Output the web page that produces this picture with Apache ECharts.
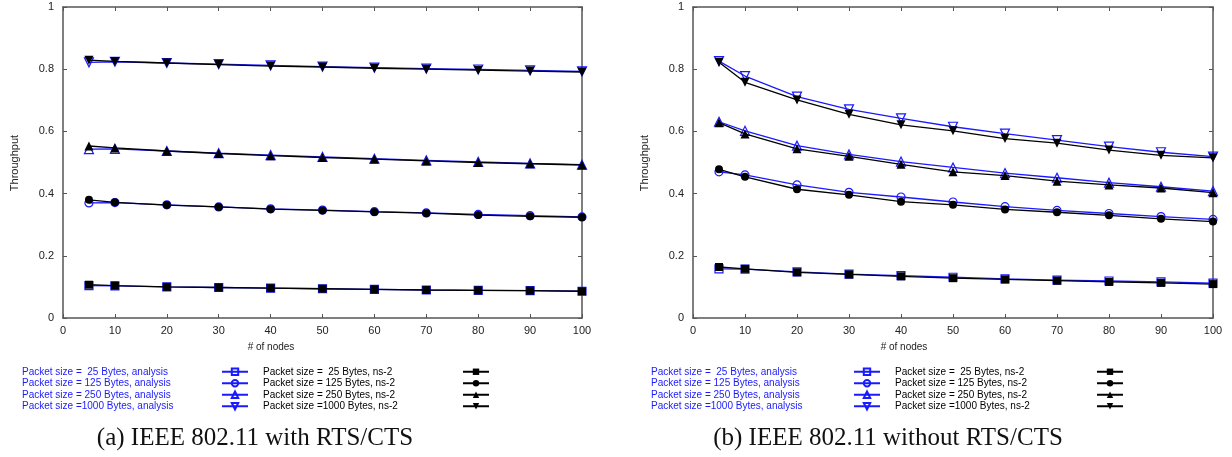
<!DOCTYPE html>
<html>
<head>
<meta charset="utf-8">
<script src="https://cdn.jsdelivr.net/npm/echarts@6/dist/echarts.min.js"></script>
<style>
  html, body { margin: 0; padding: 0; background: #fff; }
  #chart { width: 1232px; height: 457px; }
</style>
</head>
<body>
<div id="chart"></div>
<script>
const nodes = [5, 10, 20, 30, 40, 50, 60, 70, 80, 90, 100];

const analysisNames = [
  'Packet size =  25 Bytes, analysis',
  'Packet size = 125 Bytes, analysis',
  'Packet size = 250 Bytes, analysis',
  'Packet size =1000 Bytes, analysis'
];
const ns2Names = [
  'Packet size =  25 Bytes, ns-2',
  'Packet size = 125 Bytes, ns-2',
  'Packet size = 250 Bytes, ns-2',
  'Packet size =1000 Bytes, ns-2'
];

// (a) IEEE 802.11 with RTS/CTS
const rtsAnalysis25 = [0.104, 0.103, 0.100, 0.098, 0.096, 0.094, 0.092, 0.090, 0.089, 0.088, 0.086];
const rtsAnalysis125 = [0.370, 0.371, 0.364, 0.357, 0.351, 0.347, 0.342, 0.338, 0.333, 0.329, 0.325];
const rtsAnalysis250 = [0.543, 0.544, 0.537, 0.530, 0.524, 0.518, 0.512, 0.507, 0.502, 0.497, 0.493];
const rtsAnalysis1000 = [0.822, 0.824, 0.820, 0.816, 0.812, 0.808, 0.805, 0.802, 0.799, 0.796, 0.793];
const rtsNs25 = [0.107, 0.104, 0.100, 0.098, 0.096, 0.094, 0.092, 0.090, 0.089, 0.088, 0.086];
const rtsNs125 = [0.380, 0.372, 0.363, 0.357, 0.350, 0.346, 0.341, 0.337, 0.331, 0.327, 0.324];
const rtsNs250 = [0.553, 0.547, 0.537, 0.529, 0.522, 0.516, 0.511, 0.505, 0.500, 0.496, 0.492];
const rtsNs1000 = [0.829, 0.825, 0.820, 0.815, 0.810, 0.807, 0.803, 0.800, 0.797, 0.794, 0.791];

// (b) IEEE 802.11 without RTS/CTS
const basicAnalysis25 = [0.158, 0.157, 0.148, 0.141, 0.136, 0.131, 0.126, 0.122, 0.119, 0.116, 0.112];
const basicAnalysis125 = [0.470, 0.460, 0.428, 0.404, 0.389, 0.373, 0.358, 0.346, 0.336, 0.326, 0.317];
const basicAnalysis250 = [0.631, 0.602, 0.554, 0.526, 0.503, 0.484, 0.466, 0.451, 0.435, 0.422, 0.408];
const basicAnalysis1000 = [0.826, 0.778, 0.712, 0.671, 0.642, 0.615, 0.593, 0.572, 0.551, 0.533, 0.519];
const basicNs25 = [0.164, 0.158, 0.147, 0.140, 0.134, 0.128, 0.124, 0.120, 0.116, 0.113, 0.109];
const basicNs125 = [0.478, 0.454, 0.414, 0.396, 0.374, 0.364, 0.349, 0.340, 0.330, 0.319, 0.310];
const basicNs250 = [0.628, 0.592, 0.544, 0.520, 0.494, 0.470, 0.458, 0.440, 0.428, 0.418, 0.403];
const basicNs1000 = [0.822, 0.758, 0.701, 0.655, 0.621, 0.602, 0.577, 0.562, 0.540, 0.523, 0.515];

const xTicks = [0, 10, 20, 30, 40, 50, 60, 70, 80, 90, 100];
const captions = ['(a) IEEE 802.11 with RTS/CTS', '(b) IEEE 802.11 without RTS/CTS'];

const BLUE = '#1a1aff';
const symbols = ['rect', 'circle', 'triangle', 'path://M0,0L10,0L5,9Z'];
const symSizes = [8, 8, 9, 9];
const sans = 'Liberation Sans, Arial, sans-serif';

const grids = [
  { left: 63, top: 7, width: 519, height: 311 },
  { left: 693, top: 7, width: 520, height: 311 }
];

function makeSeries(name, vals, gi, k, black) {
  const c = black ? '#000' : BLUE;
  return {
    type: 'line',
    name: name,
    xAxisIndex: gi * 2,
    yAxisIndex: gi * 2,
    data: nodes.map((x, i) => [x, vals[i]]),
    symbol: symbols[k],
    symbolSize: symSizes[k],
    showAllSymbol: true,
    lineStyle: { color: c, width: 1.3 },
    itemStyle: {
      color: black ? '#000' : 'rgba(0,0,0,0)',
      borderColor: c,
      borderWidth: black ? 0 : 1.2
    },
    emphasis: { disabled: true },
    z: black ? 3 : 2
  };
}

const series = [];
[[rtsAnalysis25, rtsAnalysis125, rtsAnalysis250, rtsAnalysis1000],
 [basicAnalysis25, basicAnalysis125, basicAnalysis250, basicAnalysis1000]].forEach((set, gi) => {
  set.forEach((vals, k) => series.push(makeSeries(analysisNames[k], vals, gi, k, false)));
});
[[rtsNs25, rtsNs125, rtsNs250, rtsNs1000],
 [basicNs25, basicNs125, basicNs250, basicNs1000]].forEach((set, gi) => {
  set.forEach((vals, k) => series.push(makeSeries(ns2Names[k], vals, gi, k, true)));
});

const axisLine = { show: true, onZero: false, lineStyle: { color: '#555', width: 1.5 } };
const axisTick = { show: true, inside: true, length: 4, lineStyle: { color: '#555', width: 1 } };

const xAxis = [];
const yAxis = [];
grids.forEach((g, gi) => {
  xAxis.push({
    type: 'value', gridIndex: gi, position: 'bottom', min: 0, max: 100, interval: 10,
    axisLine: axisLine, axisTick: axisTick, splitLine: { show: false },
    axisLabel: { color: '#222', fontSize: 11, fontFamily: sans, margin: 7,
      formatter: v => xTicks.includes(v) ? String(v) : '' }
  });
  xAxis.push({
    type: 'value', gridIndex: gi, position: 'top', min: 0, max: 100, interval: 10,
    axisLine: axisLine, axisTick: axisTick, splitLine: { show: false },
    axisLabel: { show: false }
  });
  yAxis.push({
    type: 'value', gridIndex: gi, position: 'left', min: 0, max: 1, interval: 0.2,
    axisLine: axisLine, axisTick: axisTick, splitLine: { show: false },
    axisLabel: { color: '#222', fontSize: 11, fontFamily: sans, margin: 9,
      formatter: v => String(Math.round(v * 10) / 10) }
  });
  yAxis.push({
    type: 'value', gridIndex: gi, position: 'right', min: 0, max: 1, interval: 0.2,
    axisLine: axisLine, axisTick: axisTick, splitLine: { show: false },
    axisLabel: { show: false }
  });
});

// text on the left, key on the right, as in the gnuplot key
function makeLegend(names, left, textWidth, color) {
  return {
    orient: 'vertical', left: left, top: 366, padding: 0,
    align: 'right', itemWidth: 26, itemHeight: 8, itemGap: 0,
    selectedMode: false,
    data: names,
    formatter: name => '{t|' + name + '}',
    textStyle: {
      color: color, fontSize: 10, fontFamily: sans, lineHeight: 11.5,
      rich: { t: { width: textWidth, align: 'left', color: color, fontSize: 10, fontFamily: sans, lineHeight: 11.5 } }
    }
  };
}

const legend = [
  makeLegend(analysisNames, 22, 195, BLUE),
  makeLegend(ns2Names, 263, 195, '#000'),
  makeLegend(analysisNames, 651, 198, BLUE),
  makeLegend(ns2Names, 895, 197, '#000')
];

const graphic = [];
[[15, 163, 271, 347, 255], [645, 163, 904, 347, 888]].forEach((p, gi) => {
  graphic.push({
    type: 'text', x: p[0], y: p[1], rotation: Math.PI / 2,
    style: { text: 'Throughput', fontSize: 11, fontFamily: sans, fill: '#222', align: 'center', verticalAlign: 'middle' }
  });
  graphic.push({
    type: 'text', x: p[2], y: p[3],
    style: { text: '# of nodes', fontSize: 10, fontFamily: sans, fill: '#222', align: 'center', verticalAlign: 'middle' }
  });
  graphic.push({
    type: 'text', x: p[4], y: 438,
    style: { text: captions[gi], fontSize: 25, fontFamily: 'Liberation Serif, serif', fill: '#111', align: 'center', verticalAlign: 'middle' }
  });
});

const chart = echarts.init(document.getElementById('chart'));
chart.setOption({
  backgroundColor: '#fff',
  animation: false,
  grid: grids,
  xAxis: xAxis,
  yAxis: yAxis,
  legend: legend,
  graphic: graphic,
  series: series
});
</script>
</body>
</html>
